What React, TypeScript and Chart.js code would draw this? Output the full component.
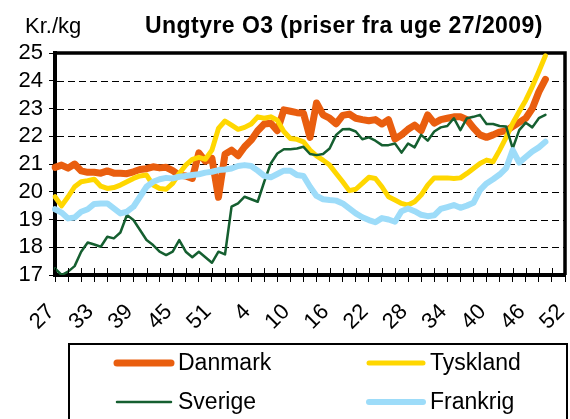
import React, { useEffect, useRef } from 'react';
import { Chart, registerables } from 'chart.js';

Chart.register(...registerables);

// Week numbers: 27/2009 .. 53/2009, then 1/2010 .. 52/2010
const weekLabels = [
  '27', '28', '29', '30', '31', '32', '33', '34', '35', '36', '37', '38', '39', '40',
  '41', '42', '43', '44', '45', '46', '47', '48', '49', '50', '51', '52', '53',
  '1', '2', '3', '4', '5', '6', '7', '8', '9', '10', '11', '12', '13', '14', '15', '16',
  '17', '18', '19', '20', '21', '22', '23', '24', '25', '26', '27', '28', '29', '30',
  '31', '32', '33', '34', '35', '36', '37', '38', '39', '40', '41', '42', '43', '44',
  '45', '46', '47', '48', '49', '50', '51', '52',
];

const danmark = [
  20.88, 20.96, 20.85, 21.0, 20.75, 20.7, 20.7, 20.67, 20.75, 20.67,
  20.67, 20.65, 20.72, 20.8, 20.83, 20.9, 20.86, 20.88, 20.76, 20.6,
  20.57, 20.48, 21.4, 21.1, 21.2, 19.8, 21.35, 21.5, 21.3, 21.62,
  21.86, 22.2, 22.44, 22.47, 22.2, 22.95, 22.9, 22.85, 22.83, 21.96,
  23.2, 22.77, 22.65, 22.45, 22.75, 22.8, 22.65, 22.6, 22.56, 22.6,
  22.44, 22.6, 21.9, 22.05, 22.25, 22.4, 22.2, 22.77, 22.47, 22.6,
  22.65, 22.7, 22.7, 22.6, 22.3, 22.05, 21.96, 22.05, 22.15, 22.2,
  22.35, 22.5, 22.65, 23.0, 23.6, 24.05,
];

const tyskland = [
  19.82, 19.49, 19.82, 20.18, 20.36, 20.4, 20.45, 20.2, 20.12, 20.15,
  20.24, 20.36, 20.48, 20.57, 20.6, 20.24, 20.12, 20.09, 20.3, 20.66,
  20.96, 21.17, 21.24, 21.17, 21.5, 22.28, 22.55, 22.4, 22.25, 22.32,
  22.44, 22.7, 22.65, 22.7, 22.58, 22.17, 21.92, 21.89, 21.8, 21.5,
  21.29, 21.14, 20.96, 20.66, 20.36, 20.04, 20.09, 20.3, 20.52, 20.48,
  20.18, 19.82, 19.7, 19.58, 19.52, 19.64, 19.88, 20.24, 20.5, 20.5,
  20.5, 20.48, 20.5, 20.66, 20.84, 21.02, 21.14, 21.08, 21.5, 21.96,
  22.47, 22.89, 23.3, 23.79, 24.33, 24.9,
];

const sverige = [
  17.24, 17.0, 17.12, 17.32, 17.84, 18.17, 18.1, 18.02, 18.38, 18.32,
  18.53, 19.16, 18.98, 18.62, 18.26, 18.08, 17.84, 17.72, 17.84, 18.26,
  17.84, 17.64, 17.84, 17.64, 17.44, 17.84, 17.74, 19.46, 19.58, 19.82,
  19.73, 19.64, 20.36, 21.02, 21.38, 21.53, 21.53, 21.56, 21.62, 21.36,
  21.32, 21.36, 21.56, 22.05, 22.25, 22.26, 22.17, 21.89, 21.96, 21.84,
  21.68, 21.68, 21.74, 21.41, 21.74, 21.6, 22.05, 21.84, 22.17, 22.32,
  22.37, 22.65, 22.22, 22.65, 22.7, 22.77, 22.44, 22.44, 22.37, 22.35,
  21.56, 22.22, 22.49, 22.32, 22.65, 22.77,
];

const frankrig = [
  19.37, 19.25, 19.04, 19.07, 19.28, 19.37, 19.56, 19.58, 19.58, 19.4,
  19.22, 19.28, 19.46, 19.82, 20.18, 20.36, 20.45, 20.5, 20.48, 20.54,
  20.57, 20.6, 20.63, 20.69, 20.72, 20.78, 20.8, 20.84, 20.93, 20.96,
  20.93, 20.76, 20.57, 20.52, 20.64, 20.76, 20.76, 20.6, 20.57, 20.18,
  19.85, 19.73, 19.7, 19.68, 19.58, 19.4, 19.22, 19.08, 18.98, 18.9,
  19.05, 19.0, 18.92, 19.3, 19.4, 19.3, 19.17, 19.12, 19.15, 19.38,
  19.45, 19.52, 19.42, 19.5, 19.6, 20.06, 20.3, 20.45, 20.62, 20.85,
  21.5, 21.05, 21.25, 21.45, 21.6, 21.8,
];

const seriesNames = ['Danmark', 'Tyskland', 'Sverige', 'Frankrig'];
const seriesColors = ['#E95E0F', '#FFD700', '#155F30', '#9DDCF9'];
const seriesWidths = [7, 5, 2.5, 6];

const titleText = 'Ungtyre O3 (priser fra uge 27/2009)';
const unitText = 'Kr./kg';

const FONT = "'Liberation Sans', Arial, sans-serif";

const decorPlugin = {
  id: 'decor',
  beforeDatasetsDraw(chart: any) {
    const { ctx, chartArea: a } = chart;
    const ys = chart.scales.y;
    ctx.save();
    // dashed horizontal gridlines at the y-scale ticks
    ctx.strokeStyle = '#000';
    ctx.lineWidth = 1;
    ctx.setLineDash([7, 4]);
    ys.ticks.forEach((t: any) => {
      if (t.value <= ys.min || t.value >= ys.max) return;
      const py = Math.round(ys.getPixelForValue(t.value)) + 0.5;
      ctx.beginPath();
      ctx.moveTo(a.left + 2, py);
      ctx.lineTo(a.right, py);
      ctx.stroke();
    });
    ctx.setLineDash([]);
    // top and right frame of the plot area
    ctx.lineWidth = 3.5;
    ctx.beginPath();
    ctx.moveTo(a.left, a.top);
    ctx.lineTo(a.right, a.top);
    ctx.lineTo(a.right, a.bottom);
    ctx.stroke();
    ctx.restore();
  },
  afterDraw(chart: any) {
    const { ctx, chartArea: a } = chart;
    const xs = chart.scales.x;
    ctx.save();
    // inner part of crossing tick marks on the category axis
    ctx.strokeStyle = '#000';
    ctx.lineWidth = 1;
    for (let i = 0; i < weekLabels.length; i += 2) {
      const px = Math.round(xs.getPixelForValue(i)) + 0.5;
      ctx.beginPath();
      ctx.moveTo(px, a.bottom - 7);
      ctx.lineTo(px, a.bottom);
      ctx.stroke();
    }
    // title and unit
    ctx.fillStyle = '#000';
    ctx.textBaseline = 'alphabetic';
    ctx.textAlign = 'left';
    ctx.font = `bold 23px ${FONT}`;
    try {
      (ctx as any).letterSpacing = '0.45px';
    } catch (e) {
      /* ignore */
    }
    ctx.fillText(titleText, 145, 33);
    try {
      (ctx as any).letterSpacing = '0px';
    } catch (e) {
      /* ignore */
    }
    ctx.font = `22px ${FONT}`;
    ctx.fillText(unitText, 25, 33);
    // legend box
    ctx.lineWidth = 2;
    ctx.strokeStyle = '#000';
    ctx.strokeRect(69, 344, 498, 120);
    const cols = [115, 367];
    const rows = [363, 402];
    ctx.font = `23px ${FONT}`;
    ctx.textBaseline = 'middle';
    seriesNames.forEach((name, k) => {
      const cx = cols[k % 2];
      const cy = rows[Math.floor(k / 2)];
      ctx.strokeStyle = seriesColors[k];
      ctx.lineWidth = seriesWidths[k];
      ctx.lineCap = 'round';
      ctx.beginPath();
      ctx.moveTo(cx + 2, cy);
      ctx.lineTo(cx + 56, cy);
      ctx.stroke();
      ctx.fillStyle = '#000';
      ctx.fillText(name, cx + 63, cy + 1);
    });
    ctx.restore();
  },
};

export default function App() {
  const ref = useRef<HTMLCanvasElement | null>(null);

  useEffect(() => {
    if (!ref.current) return;
    const values = [danmark, tyskland, sverige, frankrig];
    const chart = new Chart(ref.current, {
      type: 'line',
      data: {
        labels: weekLabels,
        datasets: seriesNames.map((name, k) => ({
          label: name,
          data: values[k],
          borderColor: seriesColors[k],
          backgroundColor: seriesColors[k],
          borderWidth: seriesWidths[k],
          pointRadius: 0,
          tension: 0,
          borderJoinStyle: 'round' as const,
          borderCapStyle: 'round' as const,
          order: 4 - k,
        })),
      },
      options: {
        responsive: false,
        animation: false,
        layout: { padding: { top: 53, right: 5, left: 0, bottom: 0 } },
        plugins: {
          legend: { display: false },
          title: { display: false },
          tooltip: { enabled: false },
        },
        scales: {
          x: {
            type: 'category',
            offset: false,
            border: { display: true, width: 4, color: '#000' },
            grid: {
              display: true,
              drawOnChartArea: false,
              drawTicks: true,
              tickLength: 7,
              lineWidth: 1,
              color: (c: any) => (c.index % 2 === 0 ? '#000' : 'rgba(0,0,0,0)'),
            },
            ticks: {
              autoSkip: false,
              minRotation: 45,
              maxRotation: 45,
              padding: 17,
              labelOffset: -4,
              color: '#000',
              font: { family: FONT, size: 22 },
              callback: (_v: any, i: number) => (i % 6 === 0 ? weekLabels[i] : ''),
            },
            afterFit: (s: any) => {
              s.height = 144;
              s.paddingLeft = 0;
              s.paddingRight = 0;
            },
          },
          y: {
            min: 17,
            max: 25,
            border: { display: true, width: 4, color: '#000' },
            grid: {
              display: true,
              drawOnChartArea: false,
              color: '#000',
              lineWidth: 1,
              drawTicks: true,
              tickLength: 6,
            },
            ticks: {
              stepSize: 1,
              autoSkip: false,
              padding: 6,
              color: '#000',
              font: { family: FONT, size: 22 },
            },
            afterFit: (s: any) => {
              s.width = 55;
              s.paddingTop = 0;
              s.paddingBottom = 0;
            },
          },
        },
      },
      plugins: [decorPlugin],
    });
    return () => chart.destroy();
  }, []);

  return (
    <div style={{ position: 'absolute', left: 0, top: 0, width: 570, height: 419, background: '#fff' }}>
      <canvas ref={ref} width={570} height={419} />
    </div>
  );
}
